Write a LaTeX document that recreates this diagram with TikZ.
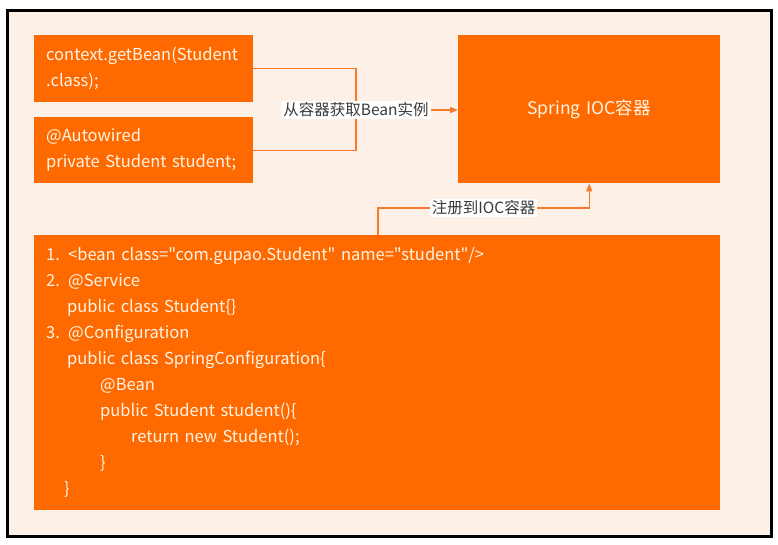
\documentclass[tikz,border=0pt]{standalone}
\usepackage{fontspec}
\setmainfont{Noto Sans CJK SC}[Ligatures=TeXOff]
\usetikzlibrary{arrows.meta, positioning}
\definecolor{springorange}{HTML}{FF6A00}
\definecolor{linkorange}{HTML}{F57A2A}
\definecolor{panelpeach}{HTML}{FDF0E6}
\definecolor{boxcream}{HTML}{FFF4E6}
\definecolor{labelgrey}{HTML}{3A3A3A}

\begin{document}
\begin{tikzpicture}[
    x=1pt, y=-1pt,
    box/.style={fill=springorange, text=boxcream, anchor=north west,
                inner xsep=12pt, inner ysep=0pt, align=left,
                font=\fontsize{16.5}{26}\selectfont},
    link/.style={draw=linkorange, line width=1.3pt},
    arrow/.style={link, -{Triangle[length=8pt, width=6pt]}},
    tag/.style={fill=white, text=labelgrey, inner sep=2pt,
                font=\fontsize{15.5}{16}\selectfont},
]
\useasboundingbox (0,0) rectangle (778,545);
\draw[line width=3pt, fill=panelpeach] (7,11) rectangle (771,536);

\node[box, text width=195pt, minimum height=67pt]  (getbean)   at (34,35)  {context.getBean(Student\\.class);};
\node[box, text width=195pt, minimum height=66pt]  (autowired) at (34,117) {@Autowired\\private Student student;};
\node[box, text width=238pt, minimum height=148pt, align=center,
      font=\fontsize{17.5}{26}\selectfont] (ioc) at (458,35) {Spring IOC容器};
\node[box, text width=662pt, minimum height=275pt] (beandefs)  at (34,235)
  {1. <bean class="com.gupao.Student" name="student"/>\\
   2. @Service\\
   \hspace*{21pt}public class Student\{\}\\
   3. @Configuration\\
   \hspace*{21pt}public class SpringConfiguration\{\\
   \hspace*{54pt}@Bean\\
   \hspace*{54pt}public Student student()\{\\
   \hspace*{85pt}return new Student();\\
   \hspace*{54pt}\}\\
   \hspace*{18pt}\}};

% get bean from the container
\coordinate (bend) at (356,110);
\draw[link] (getbean.east) -| (bend) |- (autowired.east);
\draw[arrow] (bend) -- node[tag, pos=0] {从容器获取Bean实例} (bend -| ioc.west);

% register into the container
\coordinate (regstart) at (378,235);
\draw[arrow] (regstart) -- ++(0,-27) -| node[tag, pos=0.25] {注册到IOC容器} (ioc.south);
\end{tikzpicture}
\end{document}
